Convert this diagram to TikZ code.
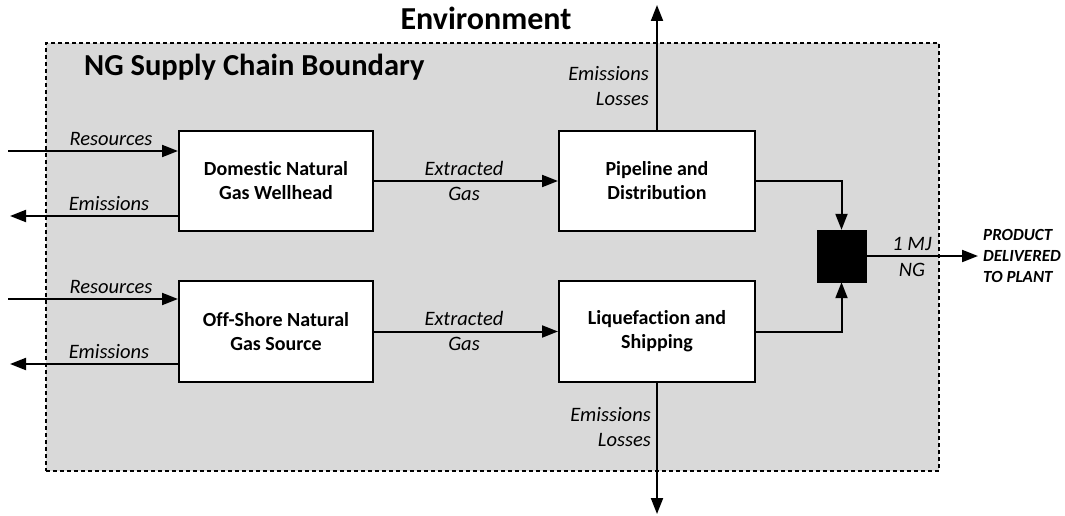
\documentclass[tikz,border=0pt]{standalone}
\usepackage{fontspec}
\setmainfont{Carlito}[Ligatures=NoCommon]
\usetikzlibrary{arrows.meta}
\begin{document}
\begin{tikzpicture}[x=1pt,y=-1pt,
  procbox/.style={draw=black,line width=2pt,fill=white,align=center,font=\fontsize{20}{24}\selectfont\bfseries,inner sep=0pt},
  flow/.style={line width=2pt,-{Triangle[length=16pt,width=12pt]}},
  lab/.style={font=\fontsize{20.5}{22}\selectfont\itshape,inner sep=0pt}]
\useasboundingbox (0,0) rectangle (1065,516);
\node[draw=black,line width=2pt,dash pattern=on 4pt off 3pt,fill=black!15,minimum width=893pt,minimum height=428pt,inner sep=0pt] (bound) at (492.5,257) {};
\node[font=\fontsize{32}{36}\selectfont\bfseries,inner sep=0pt] (env) at (486,18) {Environment};
\node[font=\fontsize{30.5}{34}\selectfont\bfseries,inner sep=0pt,anchor=west] (ngsc) at (84,67) {NG Supply Chain Boundary};
\node[procbox,minimum width=194pt,minimum height=100pt] (dom) at (276,181) {Domestic Natural\\Gas Wellhead};
\node[procbox,minimum width=196pt,minimum height=100pt] (pip) at (657,181) {Pipeline and\\Distribution};
\node[procbox,minimum width=194pt,minimum height=101pt] (off) at (276,331.5) {Off-Shore Natural\\Gas Source};
\node[procbox,minimum width=196pt,minimum height=101pt] (liq) at (657,331.5) {Liquefaction and\\Shipping};
\node[draw=black,fill=black,minimum width=49pt,minimum height=52pt,inner sep=0pt] (mix) at (841.5,256) {};
\coordinate (r1) at (8,151);
\coordinate (e1) at (10,216);
\coordinate (r2) at (8,299);
\coordinate (e2) at (10,364);
\coordinate (up) at (657,5);
\coordinate (down) at (657,514);
\coordinate (out) at (978,256);
\draw[flow] (r1) -- (r1 -| dom.west);
\draw[flow] (e1 -| dom.west) -- (e1);
\draw[flow] (r2) -- (r2 -| off.west);
\draw[flow] (e2 -| off.west) -- (e2);
\draw[flow] (dom.east) -- (pip.west);
\draw[flow] (off.east) -- (liq.west);
\draw[flow] (pip.north) -- (up);
\draw[flow] (liq.south) -- (down);
\draw[flow] (pip.east) -| (mix.north);
\draw[flow] (liq.east) -| (mix.south);
\draw[flow] (mix.east) -- (out);
\node[lab] (l1) at (111,139) {Resources};
\node[lab] (l2) at (109,204) {Emissions};
\node[lab] (l3) at (111,287) {Resources};
\node[lab] (l4) at (109,352) {Emissions};
\node[lab,align=center] (l5) at (464,181) {Extracted\\[3pt]Gas};
\node[lab,align=center] (l6) at (464,331) {Extracted\\[3pt]Gas};
\node[lab,align=right,anchor=east] (l7) at (649,86) {Emissions\\[3pt]Losses};
\node[lab,align=right,anchor=east] (l8) at (651,427) {Emissions\\[3pt]Losses};
\node[lab,align=center] (l9) at (912,257) {1 MJ\\[4pt]NG};
\node[font=\fontsize{17}{21}\selectfont\bfseries\itshape,align=left,anchor=west,inner sep=0pt] (prod) at (983,256) {PRODUCT\\DELIVERED\\TO PLANT};
\end{tikzpicture}
\end{document}
